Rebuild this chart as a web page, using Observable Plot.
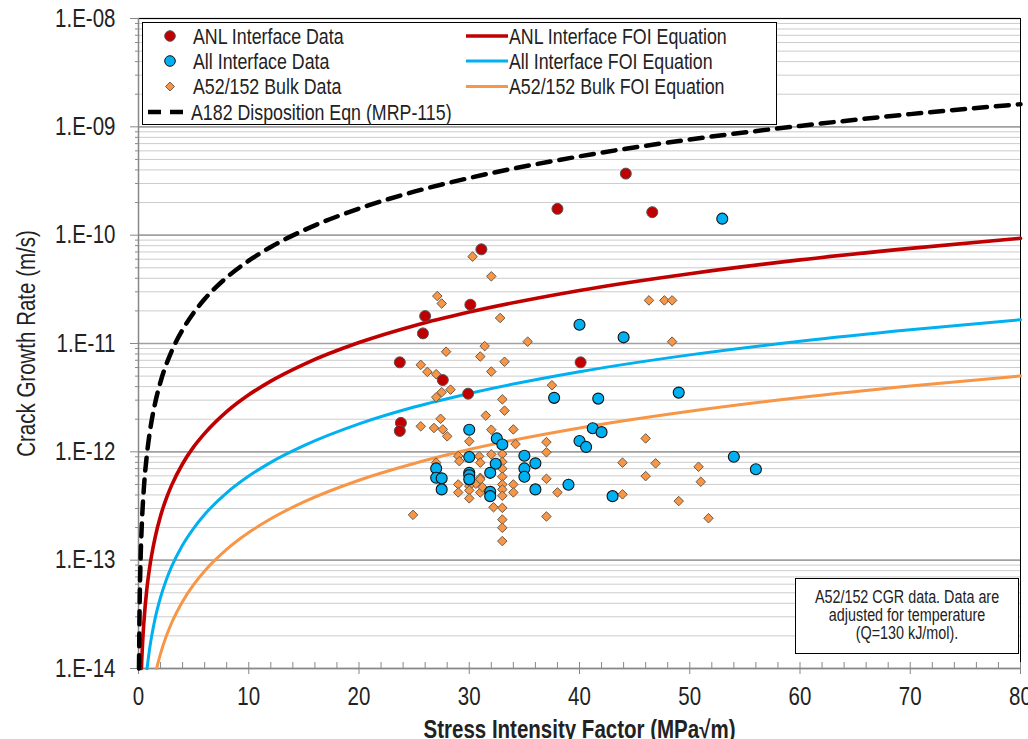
<!DOCTYPE html>
<html><head><meta charset="utf-8">
<script src="https://cdn.jsdelivr.net/npm/d3@7"></script>
<script src="https://cdn.jsdelivr.net/npm/@observablehq/plot@0.6"></script>
<style>
html,body{margin:0;padding:0;background:#fff;}
#chart{width:1028px;height:739px;overflow:hidden;}
</style></head><body><div id="chart"></div>
<script>
const FONT = "'Liberation Sans',Arimo,Arial,sans-serif";
const SX = 0.82; // horizontal condensing to mimic a narrow face

// ---- axis ticks / labels ----
const xMajor = [0, 10, 20, 30, 40, 50, 60, 70, 80];
const xLabels = ["0", "10", "20", "30", "40", "50", "60", "70", "80"];
const yMajor = [1e-14, 1e-13, 1e-12, 1e-11, 1e-10, 1e-9, 1e-8];
const yLabels = ["1.E-14", "1.E-13", "1.E-12", "1.E-11", "1.E-10", "1.E-09", "1.E-08"];
const xTitle = "Stress Intensity Factor (MPa\u221Am)";
const yTitle = "Crack Growth Rate (m/s)";
const seriesNames = ["ANL Interface Data", "All Interface Data", "A52/152 Bulk Data",
  "A182 Disposition Eqn (MRP-115)", "ANL Interface FOI Equation",
  "All Interface FOI Equation", "A52/152 Bulk FOI Equation"];
const noteLines = ["A52/152 CGR data. Data are", "adjusted for temperature", "(Q=130 kJ/mol)."];

// ---- ANL interface data (red circles) ----
const anlK    = [23.7, 23.8, 23.7, 25.8, 26.0, 27.6, 29.9, 30.1, 31.1, 38.0, 40.1, 44.2, 46.6];
const anlRate = [6.7e-12, 1.85e-12, 1.56e-12, 1.24e-11, 1.79e-11, 4.6e-12, 3.44e-12, 2.28e-11, 7.4e-11, 1.75e-10, 6.7e-12, 3.7e-10, 1.63e-10];

// ---- All interface data (blue circles) ----
const allK    = [52.95, 40.0, 44.0, 37.7, 41.7, 49.0, 30.0, 32.5, 33.0, 41.2, 42.0, 40.0, 40.6, 54.0, 56.0, 30.0, 35.0, 36.0, 35.0, 35.0, 36.0, 27.0, 27.0, 27.5, 27.5, 30.0, 30.0, 30.0, 32.4, 31.9, 31.9, 31.9, 39.0, 43.0];
const allRate = [1.42e-10, 1.49e-11, 1.14e-11, 3.15e-12, 3.1e-12, 3.52e-12, 1.6e-12, 1.33e-12, 1.17e-12, 1.65e-12, 1.52e-12, 1.26e-12, 1.11e-12, 9.0e-13, 6.9e-13, 8.96e-13, 9.2e-13, 7.83e-13, 7.03e-13, 5.89e-13, 4.5e-13, 7.03e-13, 5.76e-13, 5.69e-13, 4.5e-13, 6.4e-13, 6.1e-13, 5.57e-13, 7.77e-13, 6.4e-13, 4.27e-13, 3.9e-13, 4.96e-13, 3.9e-13];

// ---- A52/152 bulk data (orange diamonds) ----
const bulkK    = [30.3, 32.0, 27.1, 27.5, 32.8, 46.3, 47.7, 48.4, 31.4, 35.3, 48.4, 27.9, 31.0, 33.2, 25.6, 32.0, 26.2, 27.0, 28.3, 27.5, 27.0, 37.5, 33.0, 33.2, 31.5, 27.4, 25.6, 26.8, 27.6, 28.0, 32.0, 34.0, 30.0, 34.2, 37.0, 37.0, 46.0, 27.0, 29.0, 29.1, 30.9, 31.0, 32.0, 33.0, 33.0, 33.0, 33.0, 33.0, 33.0, 33.0, 33.0, 33.0, 33.0, 33.0, 32.2, 31.0, 31.0, 30.6, 31.2, 30.0, 30.0, 30.0, 30.0, 29.0, 29.0, 31.0, 34.0, 34.0, 37.0, 38.0, 39.0, 37.0, 24.9, 43.9, 46.9, 46.0, 43.9, 50.8, 51.0, 49.0, 51.7];
const bulkRate = [6.34e-11, 4.17e-11, 2.74e-11, 2.34e-11, 1.72e-11, 2.5e-11, 2.5e-11, 2.5e-11, 9.46e-12, 1.04e-11, 1.04e-11, 8.4e-12, 7.58e-12, 6.78e-12, 6.35e-12, 5.51e-12, 5.47e-12, 5.21e-12, 3.75e-12, 3.55e-12, 3.19e-12, 4.12e-12, 3.05e-12, 2.4e-12, 2.16e-12, 2.02e-12, 1.72e-12, 1.66e-12, 1.61e-12, 1.39e-12, 1.6e-12, 1.61e-12, 1.25e-12, 1.18e-12, 1.23e-12, 9.9e-13, 1.33e-12, 7.94e-13, 9.15e-13, 8.2e-13, 9.1e-13, 7.94e-13, 9.47e-13, 9.55e-13, 8.1e-13, 6.98e-13, 5.89e-13, 5.0e-13, 4.5e-13, 3.93e-13, 3.04e-13, 2.37e-13, 1.99e-13, 1.5e-13, 3.08e-13, 5.76e-13, 4.22e-13, 5.07e-13, 4.72e-13, 5.57e-13, 4.83e-13, 4.41e-13, 3.72e-13, 5.0e-13, 4.22e-13, 5.57e-13, 5.0e-13, 4.22e-13, 5.64e-13, 4.22e-13, 5.07e-13, 2.53e-13, 2.62e-13, 7.94e-13, 7.83e-13, 5.97e-13, 4.05e-13, 7.28e-13, 5.29e-13, 3.51e-13, 2.44e-13];

// ---- curves ----
const dispK    = [0.045, 0.1, 0.2, 0.3, 0.5, 0.75, 1, 1.5, 2, 3, 4, 5, 6, 8, 10, 12, 15, 20, 25, 30, 40, 50, 60, 70, 80];
const dispRate = [1.0e-14, 3.66e-14, 1.11e-13, 2.13e-13, 4.82e-13, 9.2e-13, 1.46e-12, 2.79e-12, 4.43e-12, 8.47e-12, 1.34e-11, 1.92e-11, 2.57e-11, 4.07e-11, 5.81e-11, 7.78e-11, 1.11e-10, 1.76e-10, 2.52e-10, 3.37e-10, 5.34e-10, 7.64e-10, 1.02e-9, 1.31e-9, 1.62e-9];

const anlFoiK    = [0.265, 0.3, 0.4, 0.5, 0.75, 1, 1.5, 2, 2.5, 3, 4, 5, 6, 8, 10, 12, 15, 20, 25, 30, 40, 50, 60, 70, 80];
const anlFoiRate = [1.0e-14, 1.23e-14, 1.95e-14, 2.78e-14, 5.33e-14, 8.44e-14, 1.61e-13, 2.56e-13, 3.66e-13, 4.9e-13, 7.76e-13, 1.11e-12, 1.48e-12, 2.35e-12, 3.36e-12, 4.5e-12, 6.43e-12, 1.02e-11, 1.46e-11, 1.95e-11, 3.09e-11, 4.41e-11, 5.91e-11, 7.55e-11, 9.36e-11];

const allFoiK    = [0.775, 1, 1.5, 2, 2.5, 3, 4, 5, 6, 8, 10, 12, 15, 20, 25, 30, 40, 50, 60, 70, 80];
const allFoiRate = [1.0e-14, 1.5e-14, 2.87e-14, 4.55e-14, 6.5e-14, 8.7e-14, 1.38e-13, 1.97e-13, 2.64e-13, 4.18e-13, 5.97e-13, 8.0e-13, 1.14e-12, 1.81e-12, 2.59e-12, 3.46e-12, 5.49e-12, 7.85e-12, 1.05e-11, 1.34e-11, 1.66e-11];

const bulkFoiK    = [1.64, 2, 2.5, 3, 4, 5, 6, 8, 10, 12, 15, 20, 25, 30, 40, 50, 60, 70, 80];
const bulkFoiRate = [1.0e-14, 1.37e-14, 1.96e-14, 2.63e-14, 4.16e-14, 5.95e-14, 7.96e-14, 1.26e-13, 1.8e-13, 2.41e-13, 3.45e-13, 5.47e-13, 7.81e-13, 1.05e-12, 1.66e-12, 2.37e-12, 3.17e-12, 4.05e-12, 5.02e-12];

// ---- colours ----
const RED = "#C00000", BLUE = "#00B0F0", ORANGE = "#F79646";

const pts = (ks, vs) => ks.map((k, i) => ({k, v: vs[i]}));
const xMinor = d3.range(0, 81, 2).filter(d => d % 10 !== 0);
const yMinor = [];
for (let e = -14; e < -8; e++) for (let m = 2; m <= 9; m++) yMinor.push(m * Math.pow(10, e));
const yLabelMap = new Map(yMajor.map((v, i) => [v, yLabels[i]]));
const xLabelMap = new Map(xMajor.map((v, i) => [v, xLabels[i]]));

const plot = Plot.plot({
  width: 1028, height: 739,
  marginTop: 18, marginBottom: 71, marginLeft: 138, marginRight: 8,
  style: {fontFamily: FONT, background: "#fff", color: "#222"},
  x: {domain: [0, 80]},
  y: {type: "log", domain: [1e-14, 1e-8]},
  marks: [
    Plot.gridY(yMinor, {stroke: "#cccccc", strokeOpacity: 1, strokeWidth: 1}),
    Plot.gridY(yMajor, {stroke: "#a0a0a0", strokeOpacity: 1, strokeWidth: 1.6}),
    Plot.frame({stroke: "#000", strokeWidth: 1}),
    Plot.ruleX([0], {stroke: "#888", strokeWidth: 1.5}),
    Plot.ruleY([1e-14], {stroke: "#888", strokeWidth: 1.5}),
    // y axis
    Plot.axisY(yMinor, {tickSize: 3, stroke: "#888", tickFormat: () => "", label: null}),
    Plot.axisY(yMajor, {tickSize: 8, tickPadding: 15, stroke: "#888", fill: "#222", fontSize: 25,
      tickFormat: d => yLabelMap.get(d), label: null}),
    // x axis
    Plot.axisX(xMinor, {tickSize: 6, dy: -6, stroke: "#888", tickFormat: () => "", label: null}),
    Plot.axisX(xMajor, {tickSize: 12, dy: -6, stroke: "#888", tickFormat: () => "", label: null}),
    Plot.axisX(xMajor, {tickSize: 0, tickPadding: 19, fill: "#222", fontSize: 25,
      tickFormat: d => xLabelMap.get(d), label: null}),
    // titles
    Plot.text([yTitle], {frameAnchor: "left", dx: -112, rotate: -90, textAnchor: "middle", lineAnchor: "middle",
      fontSize: 25, fill: "#222", text: d => d}),
    Plot.text([xTitle], {frameAnchor: "bottom", dy: 61, textAnchor: "middle", lineAnchor: "middle",
      fontSize: 25, fontWeight: "bold", fill: "#222", text: d => d}),
    // curves
    Plot.line(pts(bulkFoiK, bulkFoiRate), {x: "k", y: "v", stroke: ORANGE, strokeWidth: 3, curve: "monotone-x"}),
    Plot.line(pts(allFoiK, allFoiRate), {x: "k", y: "v", stroke: BLUE, strokeWidth: 3, curve: "monotone-x"}),
    Plot.line(pts(anlFoiK, anlFoiRate), {x: "k", y: "v", stroke: RED, strokeWidth: 3.6, curve: "monotone-x"}),
    Plot.line(pts(dispK, dispRate), {x: "k", y: "v", stroke: "#000", strokeWidth: 4.5, strokeDasharray: "13,9", curve: "monotone-x"}),
    // points
    Plot.dot(pts(bulkK, bulkRate), {x: "k", y: "v", symbol: "diamond2", r: 4.3, fill: ORANGE, stroke: "#6b5a4a", strokeWidth: 1}),
    Plot.dot(pts(allK, allRate), {x: "k", y: "v", r: 5.5, fill: BLUE, stroke: "#111", strokeWidth: 1.1}),
    Plot.dot(pts(anlK, anlRate), {x: "k", y: "v", r: 5.5, fill: RED, stroke: "#555", strokeWidth: 1})
  ]
});
document.getElementById("chart").append(plot);

// ---- legend and note box (layout) ----
const svg = d3.select(plot);
const addText = (g, x, y, str, anchor) => g.append("text")
  .attr("transform", `translate(${x},${y})`).attr("dy", "0.35em")
  .attr("text-anchor", anchor).text(str);

const lg = svg.append("g").attr("font-family", FONT).attr("font-size", 21.7).attr("fill", "#222");
lg.append("rect").attr("x", 142.5).attr("y", 22.5).attr("width", 634).attr("height", 102)
  .attr("fill", "#fff").attr("stroke", "#000").attr("stroke-width", 1);
const rowsY = [36, 61, 86.5, 112];
lg.append("circle").attr("cx", 170).attr("cy", rowsY[0]).attr("r", 5.3).attr("fill", RED).attr("stroke", "#555");
lg.append("circle").attr("cx", 170).attr("cy", rowsY[1]).attr("r", 5.3).attr("fill", BLUE).attr("stroke", "#111");
lg.append("path").attr("d", d3.symbol(d3.symbolDiamond2, Math.PI * 4.0 * 4.0)()).attr("transform", `translate(170,${rowsY[2]})`)
  .attr("fill", ORANGE).attr("stroke", "#6b5a4a");
lg.append("line").attr("x1", 148).attr("x2", 190).attr("y1", rowsY[3]).attr("y2", rowsY[3])
  .attr("stroke", "#000").attr("stroke-width", 4.5).attr("stroke-dasharray", "13,9");
[0, 1, 2].forEach(i => addText(lg, 193, rowsY[i], seriesNames[i], "start"));
addText(lg, 191, rowsY[3], seriesNames[3], "start");
const col2 = [[RED, 3.6], [BLUE, 3], [ORANGE, 3]];
col2.forEach(([c, w], i) => {
  lg.append("line").attr("x1", 466).attr("x2", 508).attr("y1", rowsY[i]).attr("y2", rowsY[i]).attr("stroke", c).attr("stroke-width", w);
  addText(lg, 509, rowsY[i], seriesNames[4 + i], "start");
});

const nb = svg.append("g").attr("font-family", FONT).attr("font-size", 17.5).attr("fill", "#222");
nb.append("rect").attr("x", 795.5).attr("y", 578.5).attr("width", 223).attr("height", 75)
  .attr("fill", "#fff").attr("stroke", "#000").attr("stroke-width", 1);
noteLines.forEach((t, i) => addText(nb, 907, 597 + i * 18, t, "middle"));

// condense every text horizontally around its own anchor point (positions live in transforms)
svg.selectAll("text").each(function() {
  const t = this.getAttribute("transform") || "";
  this.setAttribute("transform", `${t} scale(${SX},1)`);
});
</script></body></html>
